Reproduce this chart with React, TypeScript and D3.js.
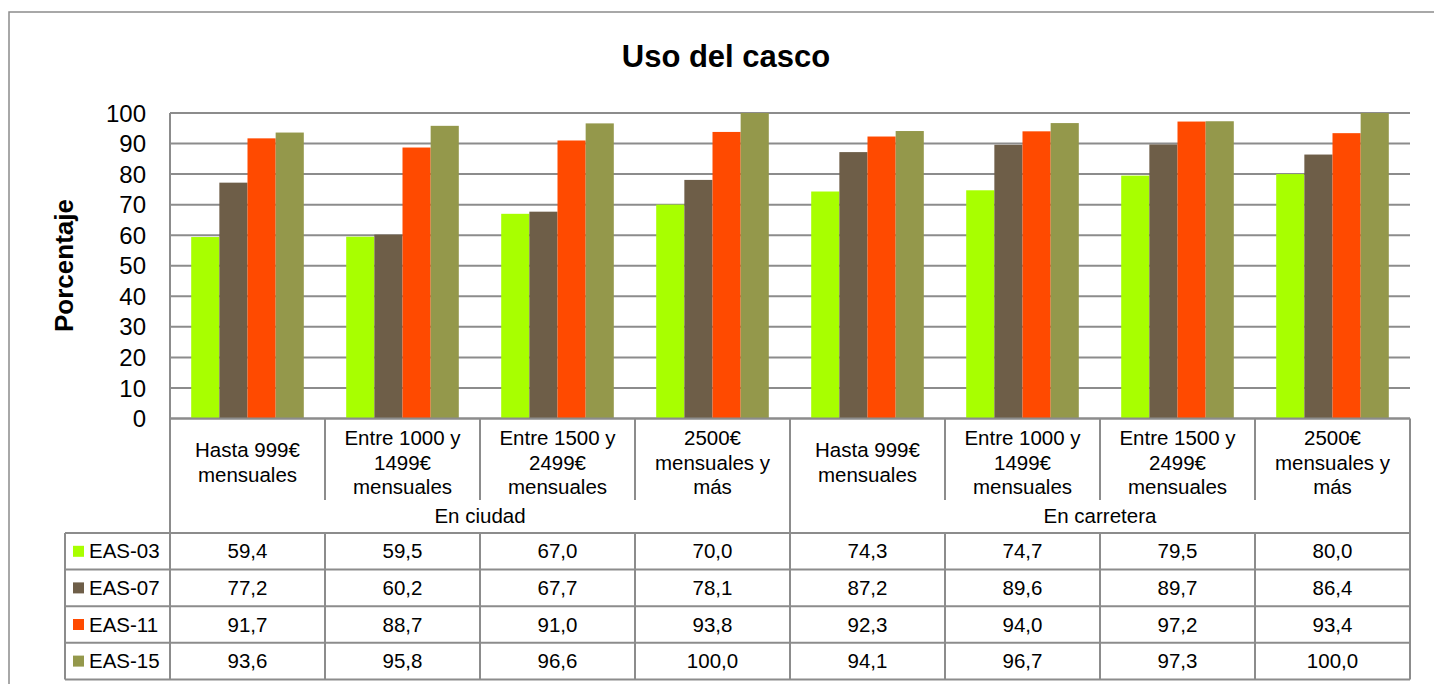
import React from "react";
import * as d3 from "d3";

const categoryLabels: string[][] = [
  ["Hasta 999€", "mensuales"],
  ["Entre 1000 y", "1499€", "mensuales"],
  ["Entre 1500 y", "2499€", "mensuales"],
  ["2500€", "mensuales y", "más"],
  ["Hasta 999€", "mensuales"],
  ["Entre 1000 y", "1499€", "mensuales"],
  ["Entre 1500 y", "2499€", "mensuales"],
  ["2500€", "mensuales y", "más"],
];
const groupLabels = ["En ciudad", "En carretera"];
const seriesNames = ["EAS-03", "EAS-07", "EAS-11", "EAS-15"];
const eas03 = [59.4, 59.5, 67.0, 70.0, 74.3, 74.7, 79.5, 80.0];
const eas07 = [77.2, 60.2, 67.7, 78.1, 87.2, 89.6, 89.7, 86.4];
const eas11 = [91.7, 88.7, 91.0, 93.8, 92.3, 94.0, 97.2, 93.4];
const eas15 = [93.6, 95.8, 96.6, 100.0, 94.1, 96.7, 97.3, 100.0];
const seriesValues = [eas03, eas07, eas11, eas15];
const colors = ["#a8ff00", "#6e5e48", "#ff4a00", "#94984b"];
const yTicks = [0, 10, 20, 30, 40, 50, 60, 70, 80, 90, 100];

const FONT = "'Liberation Sans', Arial, Helvetica, sans-serif";
const LINE = "#8c8c8c";

export default function App() {
  const W = 1434, H = 684;
  const left = 170, right = 1410, top = 113, zeroY = 418.5;
  const headerBottom = 500;
  const tableTop = 533;
  const rowH = 36.6;
  const legendLeft = 65;

  const idx = categoryLabels.map((_, i) => i);
  const x0 = d3.scaleBand<number>().domain(idx).range([left, right]).paddingInner(0).paddingOuter(0);
  const x1 = d3.scaleBand<number>().domain([0, 1, 2, 3]).range([0, x0.bandwidth()]).paddingInner(0).paddingOuter(0.753);
  const y = d3.scaleLinear().domain([0, 100]).range([zeroY, top]);

  const tableBottom = tableTop + rowH * seriesNames.length;
  const fmt = (v: number) => v.toFixed(1).replace(".", ",");
  const groupSize = categoryLabels.length / groupLabels.length;

  return (
    <svg width={W} height={H} style={{ position: "absolute", left: 0, top: 0, background: "#fff" }} fontFamily={FONT}>
      <rect x={9} y={12} width={1440} height={700} fill="#fff" stroke={LINE} strokeWidth={1.5} />
      <text x={726} y={67} textAnchor="middle" fontSize={31} fontWeight="bold" fill="#000">Uso del casco</text>
      <text transform={`translate(73,265.5) rotate(-90)`} textAnchor="middle" fontSize={26} fontWeight="bold" fill="#000">Porcentaje</text>

      {/* gridlines */}
      {yTicks.map((t) => (
        <line key={"g" + t} x1={left} x2={right} y1={y(t)} y2={y(t)} stroke={LINE} strokeWidth={2} />
      ))}
      {yTicks.map((t) => (
        <text key={"t" + t} x={146} y={y(t)} dy="0.36em" textAnchor="end" fontSize={24} fill="#000">{t}</text>
      ))}

      {/* bars */}
      {seriesValues.map((vals, s) =>
        vals.map((v, i) => (
          <rect key={`b${s}-${i}`} x={(x0(i) as number) + (x1(s) as number)} y={y(v)} width={x1.bandwidth()} height={zeroY - y(v)} fill={colors[s]} />
        ))
      )}

      {/* axis line */}
      <line x1={left} x2={left} y1={top} y2={tableBottom} stroke={LINE} strokeWidth={2} />
      <line x1={left} x2={right} y1={zeroY} y2={zeroY} stroke={LINE} strokeWidth={2} />

      {/* category header */}
      {idx.map((i) => {
        const cx = (x0(i) as number) + x0.bandwidth() / 2;
        const lines = categoryLabels[i];
        const n = lines.length;
        return (
          <g key={"c" + i}>
            {lines.map((ln, k) => (
              <text key={k} x={cx} y={469.5 + (k - (n - 1) / 2) * 24.5} textAnchor="middle" fontSize={20.5} fill="#000">{ln}</text>
            ))}
          </g>
        );
      })}
      {idx.slice(1).map((i) => {
        const xx = x0(i) as number;
        const isGroup = i % groupSize === 0;
        return (
          <g key={"d" + i}>
            <line x1={xx} x2={xx} y1={zeroY} y2={isGroup ? tableBottom : headerBottom} stroke={LINE} strokeWidth={2} />
            {!isGroup && <line x1={xx} x2={xx} y1={tableTop} y2={tableBottom} stroke={LINE} strokeWidth={2} />}
          </g>
        );
      })}
      <line x1={right} x2={right} y1={zeroY} y2={tableBottom} stroke={LINE} strokeWidth={2} />

      {/* group labels */}
      {groupLabels.map((g, gi) => {
        const a = x0(gi * groupSize) as number;
        const b = (x0((gi + 1) * groupSize - 1) as number) + x0.bandwidth();
        return <text key={g} x={(a + b) / 2} y={523} textAnchor="middle" fontSize={20.5} fill="#000">{g}</text>;
      })}

      {/* data table */}
      {seriesNames.map((_, r) => (
        <line key={"h" + r} x1={legendLeft} x2={right} y1={tableTop + r * rowH} y2={tableTop + r * rowH} stroke={LINE} strokeWidth={2} />
      ))}
      <line x1={legendLeft} x2={right} y1={tableBottom} y2={tableBottom} stroke={LINE} strokeWidth={2} />
      <line x1={legendLeft} x2={legendLeft} y1={tableTop} y2={tableBottom} stroke={LINE} strokeWidth={2} />
      {seriesNames.map((name, r) => {
        const cy = tableTop + r * rowH + rowH / 2;
        return (
          <g key={"r" + name}>
            <rect x={73} y={cy - 5.5} width={11} height={11} fill={colors[r]} />
            <text x={89} y={cy + 7} fontSize={20.5} fill="#000">{name}</text>
            {seriesValues[r].map((v, i) => (
              <text key={i} x={(x0(i) as number) + x0.bandwidth() / 2} y={cy + 7} textAnchor="middle" fontSize={20.5} fill="#000">{fmt(v)}</text>
            ))}
          </g>
        );
      })}
    </svg>
  );
}
